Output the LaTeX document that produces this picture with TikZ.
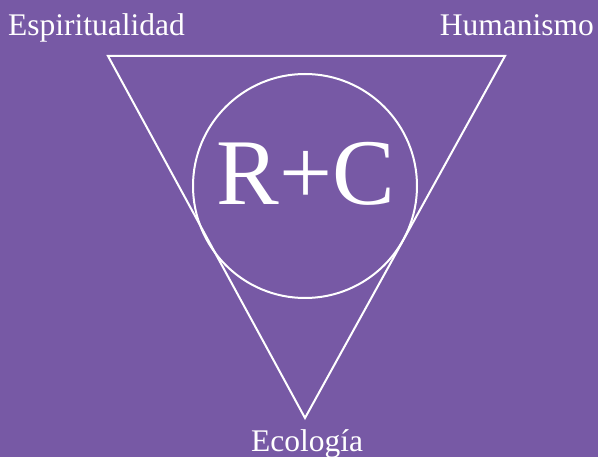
\documentclass[tikz,border=0pt]{standalone}
\usepackage{fontspec}
\setmainfont{Liberation Serif}
\definecolor{bgpurple}{RGB}{119,89,165}
\begin{document}
\begin{tikzpicture}[x=1pt,y=-1pt,
  wline/.style={draw=white,line width=2pt,line join=miter},
  lbl/.style={text=white,font=\fontsize{31.5}{36}\selectfont,inner sep=0pt,anchor=base}]
\fill[bgpurple] (0,0) rectangle (598,457);
\useasboundingbox (0,0) rectangle (598,457);
\coordinate (tl) at (108,56);
\coordinate (tr) at (505,56);
\coordinate (bt) at (305,418);
\draw[wline] (tl) -- (tr) -- (bt) -- cycle;
\node[draw=white,line width=2pt,circle,minimum size=224pt,inner sep=0pt] (circ) at (305,186) {};
\node[lbl,font=\fontsize{94}{100}\selectfont] (rc) at (306,205) {R+C};
\node[lbl,anchor=base west] (esp) at (8,36) {Espiritualidad};
\node[lbl,anchor=base east] (hum) at (594,36) {Humanismo};
\node[lbl] (eco) at (307,452) {Ecología};
\end{tikzpicture}
\end{document}
